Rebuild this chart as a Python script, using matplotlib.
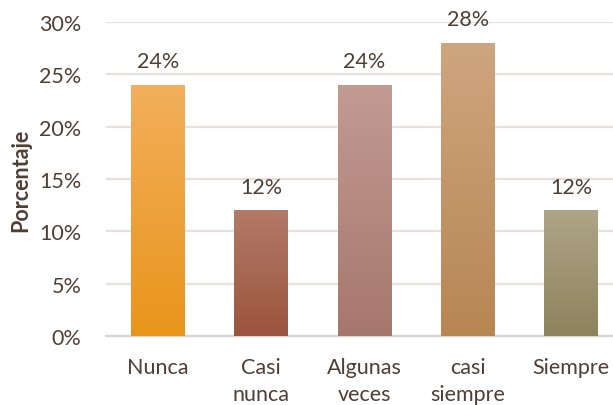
import numpy as np
import matplotlib
matplotlib.use("Agg")
import matplotlib.pyplot as plt
from matplotlib.colors import LinearSegmentedColormap
from matplotlib.ticker import FuncFormatter

categories = ["Nunca", "Casi\nnunca", "Algunas\nveces", "casi\nsiempre", "Siempre"]
values = [24, 12, 24, 28, 12]
y_ticks = [0, 5, 10, 15, 20, 25, 30]

# gradient colours per bar (top, bottom)
bar_colors = [
    ("#F3AF5C", "#E8951A"),
    ("#B27A68", "#9B543E"),
    ("#C29B93", "#A6776D"),
    ("#CEA67F", "#B78653"),
    ("#AEA588", "#8D835C"),
]

text_color = "#4F3F35"
grid_color = "#E9DFDC"
fs = 15.5

plt.rcParams["font.family"] = ["Lato", "DejaVu Sans"]

fig = plt.figure(figsize=(6.13, 4.06), dpi=100)
ax = fig.add_axes([0.1737, 0.170, 0.842, 0.773])

x = np.arange(len(categories))
bars = ax.bar(x, values, width=0.52, color="none", zorder=3)

grad = np.linspace(1, 0, 256).reshape(-1, 1)
for bar, (top, bottom) in zip(bars, bar_colors):
    cmap = LinearSegmentedColormap.from_list("g", [bottom, top])
    x0, y0 = bar.get_x(), bar.get_y()
    w, h = bar.get_width(), bar.get_height()
    im = ax.imshow(grad, cmap=cmap, aspect="auto",
                   extent=[x0, x0 + w, y0, y0 + h], zorder=3,
                   interpolation="bicubic", vmin=0, vmax=1)
    im.set_clip_path(bar)

for xi, v in zip(x, values):
    ax.text(xi, v + 1.3, f"{v}%", ha="center", va="bottom",
            fontsize=fs, color=text_color, zorder=4)

ax.set_xlim(-0.5, len(categories) - 0.5)
ax.set_ylim(0, 30)
ax.set_yticks(y_ticks)
ax.yaxis.set_major_formatter(FuncFormatter(lambda v, _: f"{v:.0f}%"))
ax.set_xticks(x)
ax.set_xticklabels(categories, linespacing=1.42)

ax.grid(axis="y", color=grid_color, linewidth=1.6, zorder=0)
for s in ["top", "right", "left"]:
    ax.spines[s].set_visible(False)
ax.spines["bottom"].set_color("#DCD4D1")
ax.spines["bottom"].set_linewidth(1.6)

ax.tick_params(axis="both", length=0, labelsize=fs, colors=text_color)
ax.tick_params(axis="x", pad=15)
ax.tick_params(axis="y", pad=18)

ax.set_ylabel("Porcentaje", fontsize=fs, fontweight="bold",
              color=text_color)
ax.yaxis.set_label_coords(-0.145, 0.5)

fig.savefig("out.png", dpi=100)
